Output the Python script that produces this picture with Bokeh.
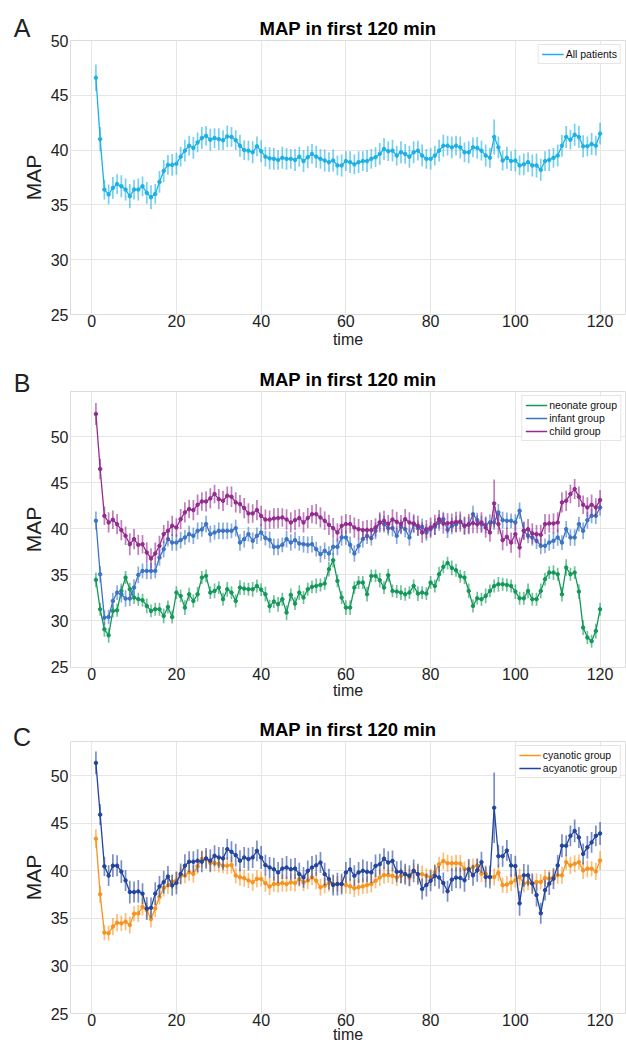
import numpy as np
from bokeh.plotting import figure
from bokeh.models import (Range1d, Legend, LegendItem, Label, FixedTicker,
                          ColumnDataSource)
from bokeh.layouts import column, row
from bokeh.embed import file_html
from bokeh.resources import INLINE

FONT = "Liberation Sans"

minutes = list(range(1, 121))
x_ticks = [0, 20, 40, 60, 80, 100, 120]
y_ticks = [25, 30, 35, 40, 45, 50, 55]
title_text = "MAP in first 120 min"
x_label = "time"
y_label = "MAP"

# ---------------- Panel A ----------------
all_patients = [
    46.6, 41.0, 36.4, 35.95, 36.55, 36.9, 36.7, 36.4, 35.8, 36.4,
    36.4, 36.7, 36.1, 35.7, 36.0, 37.1, 38.1, 38.65, 38.65, 38.75,
    39.4, 39.95, 40.4, 40.2, 40.7, 41.1, 41.3, 40.95, 41.1, 41.0,
    40.9, 41.25, 41.2, 40.9, 40.4, 40.0, 39.95, 39.8, 40.35, 39.9,
    39.4, 39.25, 39.2, 39.1, 39.3, 39.2, 39.2, 39.1, 39.4, 39.0,
    39.35, 39.65, 39.4, 39.2, 39.05, 38.9, 39.05, 38.6, 38.6, 39.0,
    38.9, 38.7, 38.9, 39.0, 39.0, 39.2, 39.35, 39.65, 40.1, 39.9,
    39.95, 39.5, 39.8, 39.65, 39.4, 39.8, 39.95, 39.5, 39.2, 39.2,
    39.5, 39.95, 40.4, 40.4, 40.25, 40.4, 40.25, 39.8, 39.8, 40.25,
    40.2, 39.95, 39.5, 39.3, 41.2, 40.25, 39.05, 39.3, 39.0, 39.05,
    38.6, 38.7, 38.9, 38.6, 38.6, 38.2, 39.0, 39.1, 39.3, 39.5,
    40.4, 41.2, 40.95, 41.4, 41.2, 40.35, 40.35, 40.55, 40.4, 41.5]
all_patients_err = [
    1.2, 1.1, 0.9, 0.9, 1.0, 0.9, 1.0, 1.0, 1.1, 0.9,
    1.0, 0.9, 1.0, 1.1, 0.9, 1.0, 1.0, 0.9, 1.0, 1.0,
    0.9, 1.0, 0.9, 1.0, 0.9, 1.0, 0.9, 1.0, 0.9, 1.0,
    0.9, 1.0, 0.9, 0.9, 1.0, 0.9, 0.9, 1.0, 0.9, 1.0,
    0.9, 1.0, 1.0, 0.9, 1.0, 1.0, 0.9, 1.0, 0.9, 1.0,
    1.0, 0.9, 1.0, 0.9, 1.0, 0.9, 1.0, 0.9, 1.0, 0.9,
    1.0, 0.9, 1.0, 0.9, 1.0, 0.9, 0.9, 1.0, 1.0, 0.9,
    1.0, 0.9, 1.0, 0.9, 1.0, 1.0, 0.9, 1.0, 0.9, 1.0,
    0.9, 1.0, 1.0, 0.9, 1.0, 0.9, 1.0, 0.9, 1.0, 0.9,
    1.0, 0.9, 1.0, 0.9, 1.6, 1.0, 0.9, 1.0, 0.9, 1.0,
    0.9, 1.0, 0.9, 1.0, 1.1, 1.0, 0.9, 1.0, 0.9, 1.0,
    1.0, 1.0, 0.9, 1.0, 1.0, 1.0, 0.9, 1.0, 0.9, 1.0]

# ---------------- Panel B ----------------
neonate = [
    34.46, 31.27, 29.09, 28.44, 31.09, 31.16, 33.26, 34.71, 33.44, 32.54,
    32.36, 32.25, 31.63, 31.09, 31.27, 31.27, 30.54, 31.52, 30.43, 33.08,
    32.72, 31.45, 32.9, 32.17, 32.9, 34.71, 34.89, 33.08, 33.26, 33.62,
    32.36, 33.44, 33.08, 32.17, 33.62, 33.51, 33.44, 33.44, 33.8, 33.4,
    32.9, 31.6, 32.1, 31.81, 32.36, 30.91, 32.83, 31.88, 33.08, 32.54,
    33.44, 33.7, 33.8, 33.91, 34.06, 35.62, 36.59, 34.35, 32.54, 31.45,
    31.45, 33.62, 34.17, 34.17, 32.9, 34.89, 34.89, 34.42, 33.62, 34.96,
    33.26, 33.19, 33.08, 32.9, 33.08, 33.8, 32.97, 33.08, 32.97, 34.17,
    33.8, 35.07, 35.87, 36.28, 35.76, 35.5, 34.85, 34.71, 33.26, 31.63,
    32.46, 32.36, 32.72, 33.26, 33.8, 33.98, 33.98, 33.91, 33.8, 33.19,
    32.46, 32.46, 33.26, 32.36, 32.36, 33.26, 34.53, 35.25, 35.25, 35.07,
    32.9, 35.8, 35.07, 35.25, 33.19, 29.28, 28.2, 27.8, 28.91, 31.27]
neonate_err = [
    0.8, 0.7, 0.8, 0.8, 0.7, 0.7, 0.8, 0.7, 0.7, 0.7,
    0.7, 0.7, 0.8, 0.7, 0.7, 0.7, 0.8, 0.7, 0.7, 0.7,
    0.7, 0.8, 0.7, 0.7, 0.8, 0.7, 0.7, 0.7, 0.8, 0.7,
    0.7, 0.8, 0.7, 0.7, 0.8, 0.7, 0.7, 0.8, 0.7, 0.7,
    0.8, 0.7, 0.7, 0.8, 0.7, 0.8, 0.7, 0.7, 0.8, 0.7,
    0.7, 0.7, 0.8, 0.7, 0.7, 0.8, 0.8, 0.7, 0.7, 0.8,
    0.8, 0.7, 0.7, 0.7, 0.8, 0.7, 0.7, 0.8, 0.7, 0.7,
    0.7, 0.7, 0.8, 0.7, 0.7, 0.7, 0.8, 0.7, 0.7, 0.7,
    0.7, 0.8, 0.7, 0.7, 0.8, 0.7, 0.7, 0.7, 0.8, 0.7,
    0.7, 0.7, 0.8, 0.7, 0.7, 0.8, 0.7, 0.7, 0.7, 0.8,
    0.7, 0.7, 0.8, 0.7, 0.7, 0.8, 0.7, 0.7, 0.8, 0.7,
    0.8, 0.9, 0.7, 0.7, 0.8, 0.8, 0.7, 0.7, 0.8, 0.7]
infant = [
    40.87, 35.07, 30.36, 30.43, 32.17, 33.08, 32.9, 32.43, 32.43, 33.62,
    35.0, 35.43, 35.43, 35.43, 35.43, 36.88, 37.79, 38.88, 38.51, 38.51,
    38.77, 39.06, 39.42, 39.24, 39.78, 39.93, 40.51, 39.42, 39.6, 39.78,
    39.78, 39.78, 39.78, 40.07, 38.51, 38.88, 39.42, 38.7, 39.24, 39.6,
    39.0, 38.8, 38.04, 38.04, 38.26, 38.88, 38.51, 38.77, 38.41, 38.33,
    38.26, 38.33, 37.79, 37.25, 37.61, 37.32, 38.04, 38.04, 39.06, 39.06,
    38.26, 37.32, 38.15, 38.88, 39.24, 38.99, 39.78, 40.69, 40.51, 40.07,
    40.07, 39.24, 40.22, 39.96, 39.06, 40.51, 40.07, 40.22, 39.6, 39.96,
    40.22, 40.69, 41.05, 39.9, 40.3, 40.5, 40.75, 40.33, 40.43, 41.59,
    40.94, 40.51, 40.43, 40.69, 40.69, 41.78, 40.94, 40.87, 40.87, 40.69,
    41.96, 39.78, 39.24, 39.06, 38.7, 38.15, 38.15, 38.51, 38.7, 39.06,
    38.51, 39.96, 39.06, 39.06, 40.51, 39.78, 40.94, 41.41, 41.41, 42.32]
infant_err = [
    1.0, 0.9, 0.8, 0.8, 0.9, 0.8, 0.9, 0.9, 0.8, 0.9,
    0.9, 0.8, 0.9, 0.9, 0.8, 0.9, 0.9, 0.8, 0.9, 0.9,
    0.9, 0.8, 0.9, 0.9, 0.9, 0.8, 0.9, 0.9, 0.8, 0.9,
    0.9, 0.9, 0.8, 0.9, 0.9, 0.9, 0.8, 0.9, 0.9, 0.9,
    0.8, 0.9, 0.9, 0.9, 0.8, 0.9, 0.9, 0.9, 0.8, 0.9,
    0.9, 0.9, 0.8, 0.9, 0.9, 0.8, 0.9, 0.9, 0.9, 0.8,
    0.9, 0.9, 0.8, 0.9, 0.9, 0.8, 0.9, 0.9, 0.9, 0.8,
    0.9, 0.9, 0.8, 0.9, 0.9, 0.9, 0.8, 0.9, 0.9, 0.8,
    0.9, 0.9, 0.8, 0.9, 0.9, 0.9, 0.8, 0.9, 0.9, 0.9,
    0.8, 0.9, 0.9, 0.9, 0.8, 0.9, 0.9, 0.9, 0.8, 0.9,
    0.9, 0.9, 0.8, 0.9, 0.9, 0.9, 0.8, 0.9, 0.9, 0.9,
    0.8, 0.9, 0.9, 0.9, 0.8, 0.9, 0.9, 0.8, 0.9, 0.9]
child = [
    52.46, 46.49, 41.41, 40.69, 40.98, 40.5, 39.86, 39.24, 38.33, 38.88,
    38.26, 38.33, 37.43, 36.78, 37.32, 38.15, 39.42, 39.78, 40.33, 40.14,
    41.05, 41.78, 42.14, 42.03, 42.61, 42.97, 42.97, 43.3, 43.77, 43.22,
    43.04, 43.59, 43.48, 42.86, 42.68, 42.25, 41.67, 41.67, 42.03, 41.4,
    41.0, 41.0, 41.12, 41.16, 41.23, 41.01, 40.69, 40.94, 41.16, 40.69,
    41.16, 41.59, 41.59, 41.23, 40.87, 40.43, 40.07, 39.6, 40.33, 40.51,
    40.51, 40.14, 39.96, 39.86, 39.86, 39.86, 40.14, 40.69, 40.87, 40.51,
    41.01, 40.76, 40.51, 41.05, 40.69, 40.58, 40.33, 39.6, 39.96, 40.14,
    40.43, 41.05, 40.58, 40.6, 40.65, 40.75, 40.78, 40.33, 40.51, 40.62,
    40.51, 40.69, 40.14, 39.6, 42.75, 40.51, 38.77, 39.13, 38.51, 39.42,
    37.97, 39.78, 39.96, 39.49, 39.42, 39.35, 40.51, 40.58, 40.58, 40.69,
    42.86, 43.04, 43.77, 44.31, 43.48, 42.61, 42.32, 42.61, 42.32, 43.12]
child_err = [
    1.2, 1.1, 1.0, 1.1, 1.0, 1.1, 1.1, 1.0, 1.2, 1.1,
    1.1, 1.0, 1.1, 1.1, 1.2, 1.1, 1.0, 1.1, 1.1, 1.0,
    1.1, 1.1, 1.0, 1.1, 1.1, 1.0, 1.1, 1.1, 1.0, 1.1,
    1.1, 1.0, 1.1, 1.1, 1.0, 1.1, 1.1, 1.0, 1.1, 1.1,
    1.1, 1.0, 1.1, 1.1, 1.0, 1.1, 1.1, 1.1, 1.0, 1.1,
    1.1, 1.0, 1.1, 1.1, 1.0, 1.1, 1.1, 1.0, 1.1, 1.1,
    1.0, 1.1, 1.1, 1.0, 1.1, 1.1, 1.0, 1.1, 1.1, 1.0,
    1.1, 1.1, 1.0, 1.1, 1.1, 1.0, 1.1, 1.1, 1.0, 1.1,
    1.1, 1.0, 1.1, 1.1, 1.0, 1.1, 1.1, 1.0, 1.1, 1.1,
    1.0, 1.1, 1.1, 1.0, 2.6, 1.1, 1.1, 1.0, 1.1, 1.1,
    1.1, 1.0, 1.1, 1.1, 1.0, 1.1, 1.1, 1.0, 1.1, 1.1,
    1.1, 1.1, 1.0, 1.1, 1.1, 1.0, 1.1, 1.1, 1.0, 1.1]

# ---------------- Panel C ----------------
cyanotic = [
    43.38, 37.53, 33.51, 33.44, 34.14, 34.55, 34.48, 34.66, 34.31, 35.49,
    35.52, 36.21, 35.87, 34.93, 36.04, 37.25, 38.19, 38.47, 38.88, 38.99,
    39.5, 39.5, 39.85, 39.68, 40.47, 41.24, 41.24, 40.82, 40.82, 40.72,
    40.54, 40.54, 40.61, 39.5, 39.33, 39.23, 38.99, 38.81, 39.16, 39.15,
    38.7, 38.35, 38.61, 38.61, 38.72, 38.61, 38.79, 38.72, 39.13, 38.79,
    38.96, 39.31, 38.96, 38.27, 38.44, 38.72, 38.61, 38.61, 38.61, 38.51,
    38.37, 38.16, 38.27, 38.37, 38.51, 38.61, 38.96, 39.31, 39.55, 39.55,
    39.48, 39.31, 39.48, 39.65, 39.31, 40.0, 39.65, 39.65, 39.48, 39.31,
    39.83, 40.69, 41.04, 40.8, 40.8, 40.8, 40.77, 40.22, 40.22, 40.39,
    40.57, 39.7, 39.7, 39.35, 39.35, 39.8, 38.49, 38.56, 38.77, 39.01,
    39.35, 38.66, 38.77, 38.66, 38.83, 38.83, 39.25, 39.18, 39.35, 39.53,
    39.53, 40.91, 40.57, 40.74, 40.91, 40.05, 40.22, 40.22, 39.94, 41.09]
cyanotic_err = [
    1.0, 0.9, 0.8, 0.8, 0.9, 0.9, 0.8, 0.9, 0.9, 0.8,
    0.9, 0.9, 0.8, 0.9, 0.9, 0.8, 0.9, 0.9, 0.8, 0.9,
    0.9, 0.8, 0.9, 0.9, 0.8, 0.9, 0.9, 0.8, 0.9, 0.9,
    0.8, 0.9, 0.9, 0.8, 0.9, 0.9, 0.8, 0.9, 0.9, 0.8,
    0.9, 0.9, 0.8, 0.9, 0.9, 0.8, 0.9, 0.9, 0.8, 0.9,
    0.9, 0.8, 0.9, 0.9, 0.8, 0.9, 0.9, 0.8, 0.9, 0.9,
    0.8, 0.9, 0.9, 0.8, 0.9, 0.9, 0.8, 0.9, 0.9, 0.8,
    0.9, 0.9, 0.8, 0.9, 0.9, 0.8, 0.9, 0.9, 0.8, 0.9,
    0.9, 0.8, 0.9, 0.9, 0.8, 0.9, 0.9, 0.8, 0.9, 0.9,
    0.8, 0.9, 0.9, 0.8, 0.9, 0.9, 0.8, 0.9, 0.9, 0.8,
    0.9, 0.9, 0.8, 0.9, 0.9, 0.8, 0.9, 0.9, 0.8, 0.9,
    0.9, 0.8, 0.9, 0.9, 0.8, 0.9, 0.9, 0.8, 0.9, 1.0]
acyanotic = [
    51.35, 45.91, 40.47, 39.5, 40.54, 40.54, 39.92, 38.99, 37.77, 37.77,
    37.84, 37.6, 36.04, 36.11, 37.6, 38.36, 38.81, 39.4, 38.47, 38.74,
    39.68, 40.54, 40.96, 40.96, 41.06, 40.96, 41.31, 41.06, 41.58, 41.41,
    41.31, 42.28, 42.0, 41.65, 41.06, 41.41, 41.24, 41.41, 42.1, 41.4,
    40.6, 40.36, 40.17, 39.83, 40.24, 40.35, 40.17, 40.24, 39.65, 39.31,
    40.0, 40.35, 40.59, 40.87, 39.65, 39.13, 38.51, 38.61, 38.61, 39.83,
    40.17, 39.48, 39.83, 40.0, 39.9, 39.83, 40.52, 40.69, 41.28, 40.87,
    41.04, 39.9, 39.9, 39.65, 39.48, 40.0, 39.65, 38.09, 38.51, 38.96,
    39.48, 39.31, 38.72, 37.86, 39.07, 39.28, 39.25, 39.01, 40.15, 39.53,
    40.05, 40.91, 39.35, 39.35, 46.63, 41.54, 41.54, 42.13, 40.57, 40.5,
    36.58, 39.53, 39.53, 38.66, 37.45, 35.54, 37.97, 38.66, 39.18, 40.57,
    42.64, 42.64, 43.68, 44.2, 43.51, 41.78, 42.47, 42.99, 43.68, 43.93]
acyanotic_err = [
    1.2, 1.1, 1.0, 1.1, 1.2, 1.1, 1.2, 1.1, 1.2, 1.1,
    1.2, 1.1, 1.2, 1.1, 1.2, 1.1, 1.2, 1.1, 1.1, 1.2,
    1.1, 1.2, 1.1, 1.1, 1.2, 1.1, 1.1, 1.2, 1.1, 1.1,
    1.2, 1.1, 1.1, 1.2, 1.1, 1.1, 1.2, 1.1, 1.1, 1.2,
    1.1, 1.1, 1.2, 1.1, 1.1, 1.2, 1.1, 1.1, 1.2, 1.1,
    1.1, 1.2, 1.1, 1.1, 1.2, 1.1, 1.1, 1.2, 1.1, 1.1,
    1.2, 1.1, 1.1, 1.2, 1.1, 1.1, 1.2, 1.1, 1.1, 1.2,
    1.1, 1.1, 1.2, 1.1, 1.1, 1.2, 1.1, 1.1, 1.2, 1.1,
    1.1, 1.2, 1.1, 1.1, 1.2, 1.1, 1.1, 1.2, 1.1, 1.1,
    1.2, 1.1, 1.1, 1.2, 3.7, 1.2, 1.1, 1.1, 1.2, 1.1,
    1.3, 1.2, 1.1, 1.1, 1.2, 1.1, 1.1, 1.2, 1.1, 1.1,
    1.2, 1.1, 1.1, 1.2, 1.1, 1.1, 1.2, 1.1, 1.1, 1.2]

COL_ALL = "#1cb0e6"
COL_NEO = "#12995a"
COL_INF = "#3b74c4"
COL_CHI = "#932a8e"
COL_CYA = "#f7931e"
COL_ACY = "#22449e"
TXT = "#222222"


def make_header(letter, height, letter_y, title_y):
    """Transparent strip above a panel with the panel letter and title."""
    h = figure(width=626, height=height, x_range=Range1d(0, 626),
               y_range=Range1d(0, height), output_backend="svg",
               toolbar_location=None, min_border=0,
               x_axis_location=None, y_axis_location=None)
    h.grid.visible = False
    h.outline_line_color = None
    h.background_fill_alpha = 0
    h.border_fill_alpha = 0
    h.add_layout(Label(x=21.5, y=letter_y, text=letter, text_font=FONT,
                       text_font_size="25px", text_align="center",
                       text_baseline="middle", text_color=TXT))
    h.add_layout(Label(x=347.5, y=title_y, text=title_text, text_font=FONT,
                       text_font_size="18.5px", text_font_style="bold",
                       text_align="center", text_baseline="middle",
                       text_color="#000000"))
    return h


def make_panel(series, y_lo, y_hi, height, b_top, b_bottom, xlab_standoff,
               overlap):
    p = figure(width=626, height=height,
               x_range=Range1d(-5, 126), y_range=Range1d(y_lo, y_hi),
               output_backend="svg", toolbar_location=None,
               min_border_left=70, min_border_right=1,
               min_border_top=b_top, min_border_bottom=b_bottom,
               margin=(-overlap, 0, 0, 0))
    p.background_fill_color = "white"
    p.border_fill_alpha = 0
    p.outline_line_color = "#dcdcdc"
    p.outline_line_width = 1

    p.xaxis.ticker = FixedTicker(ticks=x_ticks)
    p.yaxis.ticker = FixedTicker(ticks=y_ticks)
    for ax in (p.xaxis[0], p.yaxis[0]):
        ax.axis_line_color = None
        ax.major_tick_line_color = None
        ax.minor_tick_line_color = None
        ax.major_tick_out = 0
        ax.major_tick_in = 0
        ax.major_label_text_font = FONT
        ax.major_label_text_font_size = "16px"
        ax.major_label_text_color = TXT
        ax.axis_label_text_font = FONT
        ax.axis_label_text_font_style = "normal"
        ax.axis_label_text_color = TXT
    p.yaxis.major_label_standoff = 2
    p.yaxis.axis_label = y_label
    p.yaxis.axis_label_text_font_size = "21px"
    p.yaxis.axis_label_standoff = 3
    p.xaxis.major_label_standoff = 0
    p.xaxis.axis_label = x_label
    p.xaxis.axis_label_text_font_size = "16px"
    p.xaxis.axis_label_standoff = xlab_standoff
    p.xgrid.grid_line_color = "#e6e6e6"
    p.ygrid.grid_line_color = "#e6e6e6"

    items = []
    for name, vals, errs, color in series:
        v = np.array(vals)
        e = np.array(errs)
        src = ColumnDataSource(dict(x=minutes, y=vals, lo=v - e, hi=v + e))
        p.segment(x0="x", y0="lo", x1="x", y1="hi", source=src,
                  line_color=color, line_alpha=0.6, line_width=1.7)
        ln = p.line("x", "y", source=src, line_color=color, line_width=1.3)
        p.scatter("x", "y", source=src, size=3.5, marker="circle",
                  color=color)
        leg_mark = p.scatter(x=[], y=[], marker="cross", size=9,
                             line_color=color, line_width=1.3)
        items.append(LegendItem(label=name, renderers=[ln, leg_mark]))

    legend = Legend(items=items, location="top_right")
    legend.label_text_font = FONT
    legend.label_text_font_size = "10.5px"
    legend.label_text_color = "#111111"
    legend.label_height = 12
    legend.glyph_height = 12
    legend.glyph_width = 22
    legend.label_standoff = 2
    legend.spacing = 1
    legend.padding = 3
    legend.margin = 4
    legend.border_line_color = "#cccccc"
    legend.background_fill_alpha = 0.85
    p.add_layout(legend)
    return p


# strip A: 0-44, panel A drawn from y=30 (overlap 14), frame top at 40
hA = make_header("A", 44, 16.5, 16.1)
pA = make_panel([("All patients", all_patients, all_patients_err, COL_ALL)],
                25, 50, 322, 10, 38, 1, 14)
# strip B: 352-398, panel B from y=390, frame top at 391
hB = make_header("B", 46, 15.8, 19.1)
pB = make_panel([("neonate group", neonate, neonate_err, COL_NEO),
                 ("infant group", infant, infant_err, COL_INF),
                 ("child group", child, child_err, COL_CHI)],
                24.95, 54.9, 312, 1, 35, -1, 8)
# strip C: 702-752, panel C from y=740, frame top at 741
hC = make_header("C", 50, 15.5, 23.1)
pC = make_panel([("cyanotic group", cyanotic, cyanotic_err, COL_CYA),
                 ("acyanotic group", acyanotic, acyanotic_err, COL_ACY)],
                25, 53.6, 306, 1, 33, -3, 12)

layout = column(row(hA), pA, row(hB), pB, row(hC), pC, spacing=0)
open("out.html", "w").write(file_html(layout, INLINE))
